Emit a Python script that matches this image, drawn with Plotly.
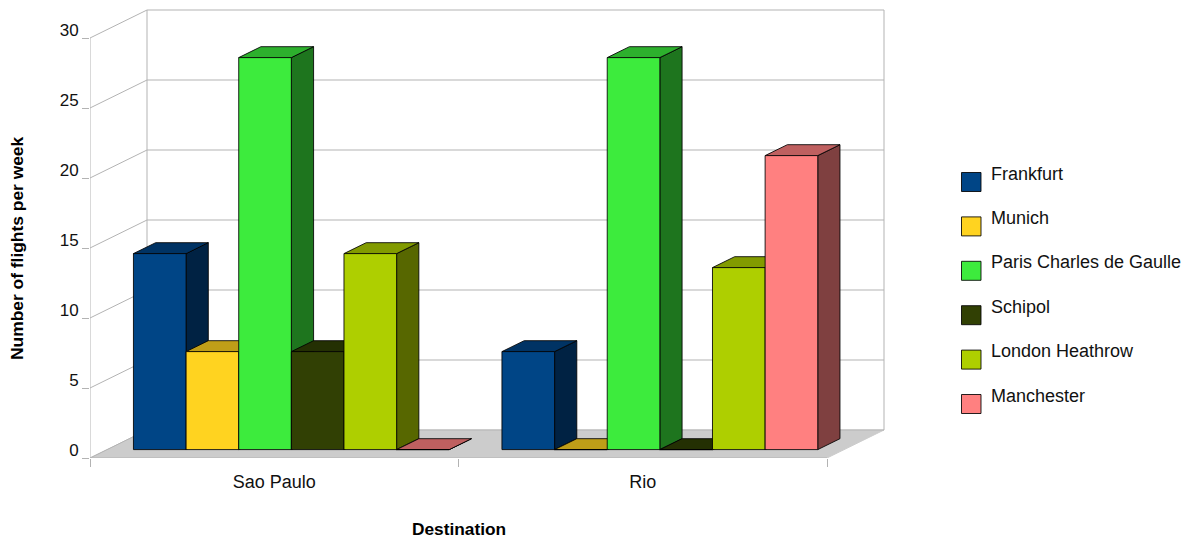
import plotly.graph_objects as go

categories = ["Sao Paulo", "Rio"]
airports = ["Frankfurt", "Munich", "Paris Charles de Gaulle", "Schipol", "London Heathrow", "Manchester"]
frankfurt = [14, 7]
munich = [7, 0]
paris = [28, 28]
schipol = [7, 0]
heathrow = [14, 13]
manchester = [0, 21]
series_values = [frankfurt, munich, paris, schipol, heathrow, manchester]
colors = ["#004586", "#ffd320", "#3deb3d", "#314004", "#aecf00", "#ff8080"]
y_ticks = [0, 5, 10, 15, 20, 25, 30]

# Page coordinates of the plot rectangle; the browser adds an 8px body margin
PAGE = 8
L, R, T, B = 90, 890, 9, 458
UX, UY = 368.5, 14.0         # pixels per category, pixels per flight
W, H = 1194 - PAGE, 540 - PAGE
DX = 57 / UX                 # full box depth, in x units
DY = 28 / UY                 # full box depth, in y units
D0, D1 = 0.30, 0.69          # depth of the bars' front and back
GAP = 0.143
BAR_W = (1 - GAP) / 6
EDGE = "rgba(0,0,0,0.85)"
GRID = "#b3b3b3"
X_RANGE = [0, (R - L) / UX]
Y_RANGE = [0, (B - T) / UY]


def shade(hexcol, k):
    r, g, b = (int(hexcol[i:i + 2], 16) for i in (1, 3, 5))
    return f"rgb({int(r * k)},{int(g * k)},{int(b * k)})"


def proj(u, v, d):
    return u + d * DX, v + d * DY


def poly(points, fill, line=EDGE, width=1):
    xy = [proj(*p) for p in points + points[:1]]
    return go.Scatter(
        x=[a for a, _ in xy], y=[b for _, b in xy], mode="lines", fill="toself",
        fillcolor=fill, line=dict(color=line, width=width), hoverinfo="skip",
        showlegend=False, xaxis="x", yaxis="y",
    )


def wire(points):
    xy = [proj(*p) for p in points]
    return go.Scatter(
        x=[a for a, _ in xy], y=[b for _, b in xy], mode="lines",
        line=dict(color=GRID, width=1), hoverinfo="skip",
        showlegend=False, xaxis="x", yaxis="y",
    )


fig = go.Figure()

# Floor
fig.add_trace(poly([(0, 0, 0), (2, 0, 0), (2, 0, 1), (0, 0, 1)], "#cccccc", line="#cccccc"))
# Walls and grid
for v in y_ticks:
    fig.add_trace(wire([(0, v, 0), (0, v, 1), (2, v, 1)]))
fig.add_trace(wire([(0, 0, 1), (0, 30, 1)]))
fig.add_trace(wire([(2, 0, 1), (2, 30, 1)]))
# Front axis lines
fig.add_trace(wire([(0, 30, 0), (0, 0, 0), (2, 0, 0)]))

# Bar sides and tops, painted left to right
for c in range(len(categories)):
    for s, vals in enumerate(series_values):
        v = vals[c]
        x0 = c + GAP / 2 + s * BAR_W
        x1 = x0 + BAR_W
        fig.add_trace(poly([(x1, 0, D0), (x1, 0, D1), (x1, v, D1), (x1, v, D0)], shade(colors[s], 0.5)))
        fig.add_trace(poly([(x0, v, D0), (x1, v, D0), (x1, v, D1), (x0, v, D1)], shade(colors[s], 0.75)))

# Bar fronts
for s, vals in enumerate(series_values):
    fig.add_trace(go.Bar(
        x=[i + 0.5 + D0 * DX for i in range(len(categories))], y=vals, base=D0 * DY,
        name=airports[s], marker=dict(color=colors[s], line=dict(color=EDGE, width=1)),
        showlegend=False, xaxis="x2", yaxis="y",
    ))

FONT = "Liberation Sans"
fig.update_layout(
    width=W, height=H, autosize=False,
    margin=dict(l=L - PAGE, r=1194 - R, t=T - PAGE, b=540 - B),
    paper_bgcolor="white", plot_bgcolor="rgba(0,0,0,0)",
    barmode="group", bargap=GAP, bargroupgap=0,
    font=dict(family=FONT, size=17, color="#111111"),
    xaxis=dict(
        range=X_RANGE, tickmode="array", tickvals=[0, 1, 2], ticks="outside", ticklen=8,
        tickcolor=GRID, showticklabels=False, showline=False, showgrid=False, zeroline=False,
    ),
    xaxis2=dict(
        range=X_RANGE, overlaying="x", anchor="y", side="bottom", tickmode="array",
        tickvals=[0.5, 1.5], ticktext=categories, ticks="", showgrid=False, zeroline=False,
        showline=False, ticklabelstandoff=11, tickfont=dict(size=18),
    ),
    yaxis=dict(
        range=Y_RANGE, tickmode="array", tickvals=y_ticks, ticks="outside", ticklen=7,
        tickcolor=GRID, showline=False, showgrid=False, zeroline=False, ticklabelshift=-8,
    ),
)

px = lambda x: (x - L) / (R - L)
py = lambda y: (B - y) / (B - T)

# Axis titles
fig.add_annotation(xref="paper", yref="paper", x=px(459), y=py(529), text="<b>Destination</b>",
                   showarrow=False, xanchor="center", yanchor="middle",
                   font=dict(size=17.3, color="black"))
fig.add_annotation(xref="paper", yref="paper", x=px(17), y=py(248), textangle=-90,
                   text="<b>Number of flights per week</b>", showarrow=False,
                   xanchor="center", yanchor="middle", font=dict(size=17.4, color="black"))

# Legend
for s, name in enumerate(airports):
    yc = 182 + s * 44.4
    fig.add_shape(type="rect", xref="paper", yref="paper",
                  x0=px(961.5), x1=px(981), y0=py(yc - 9.5), y1=py(yc + 9.5),
                  fillcolor=colors[s], line=dict(color=EDGE, width=1))
    fig.add_annotation(xref="paper", yref="paper", x=px(991), y=py(yc - 8.5),
                       text=name, showarrow=False, xanchor="left", xshift=-2, yanchor="middle",
                       font=dict(size=18, color="#111111"))

fig.write_html("out.html")
